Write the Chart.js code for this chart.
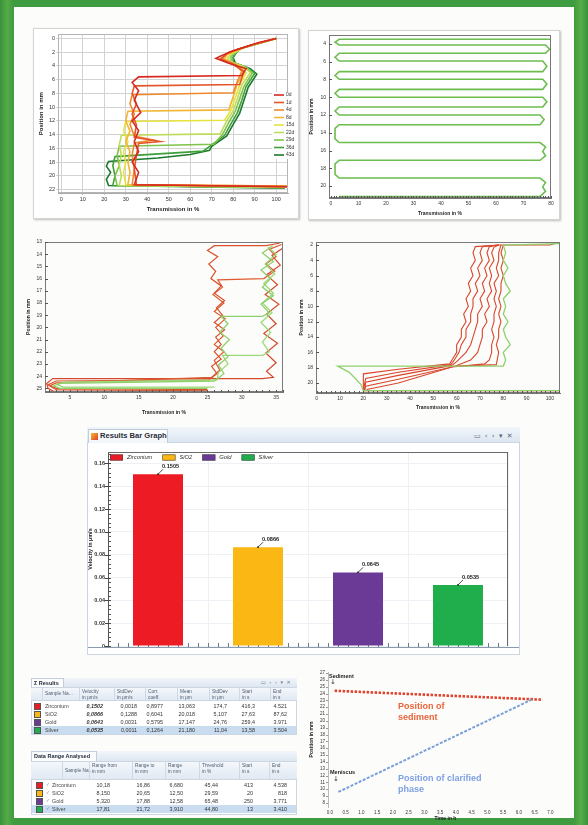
<!DOCTYPE html>
<html><head><meta charset="utf-8">
<script src="https://cdn.jsdelivr.net/npm/chart.js@4.4.1/dist/chart.umd.min.js"></script>
<style>
html,body{margin:0;padding:0;}
body{width:588px;height:825px;position:relative;overflow:hidden;
 background:linear-gradient(90deg,#37923a 0,#55ab48 7px,#3f9b3f 14px,#3f9b3f 574px,#57ad4a 581px,#37923a 588px);
 font-family:"Liberation Sans",Arial,sans-serif;}
.abs{position:absolute;}
canvas{position:absolute;}
</style></head><body>
<div class="abs" style="left:14px;top:7px;width:560px;height:811px;background:#fcfdfb;"></div>
<script>
// ---------------- DATA ----------------
// Bar chart
const categories = ['Zirconium','SiO2','Gold','Silver'];
const velocities = [0.1505, 0.0866, 0.0645, 0.0535];
const barColors  = ['#ed1c24','#fbb714','#6b3a96','#1fae4b'];
const barYTicks  = [0,0.02,0.04,0.06,0.08,0.10,0.12,0.14,0.16];
const barYLabels = ['0','0.02','0.04','0.06','0.08','0.10','0.12','0.14','0.16'];

// Top-left: transmission profiles [transmission %, position mm]
const TL_labels = ['0d','1d','4d','8d','15d','22d','29d','36d','43d'];
const TL_colors = ['#d6291f','#e4552b','#ef8a2c','#f3b533','#e6e33c','#bcdc5b','#80c34b','#3fa03a','#1b7a2c'];
const TL_0d  = [[100,0],[92,0.6],[80,1.8],[74,2.6],[72,2.9],[78,3.6],[86,4.4],[84,5.4],[36,5.6],[33,6.4],[36,7.6],[34,9],[37,10.8],[33,12],[36,13.4],[34,15],[36,16.5],[33,18],[36,19.5],[34,21.3],[105,21.6]];
const TL_1d  = [[100,0],[90,0.8],[78,2],[74,3],[80,3.8],[85,4.8],[83,6.7],[34,6.9],[33,8],[35,9.5],[33,11],[35,12.6],[34,14.4],[46,15],[36,15.3],[35,17],[34,19],[35,21.3],[105,21.6]];
const TL_4d  = [[100,0],[88,1],[77,2.2],[75,3],[81,3.8],[84,4.8],[82,6.2],[80,7.9],[33,8.2],[32,9.5],[34,11],[32,12.5],[34,14.2],[43,14.8],[34,15.2],[33,17],[34,19],[33,21.3],[105,21.5]];
const TL_8d  = [[100,0],[87,1.1],[77,2.3],[76,3.1],[82,3.9],[85,5],[82,6.5],[80,8.5],[78,10.4],[31,10.6],[30,12],[32,13.5],[30,15],[32,16.5],[31,18],[32,19.5],[31,21.3],[105,21.5]];
const TL_15d = [[100,0],[86,1.2],[78,2.3],[77,3.2],[83,4],[86,5],[83,6.8],[81,8.6],[79,10.4],[76,11.9],[30,12.1],[29,13.5],[31,15],[29,16.5],[30,18],[29,19.5],[30,21.3],[104,21.6]];
const TL_22d = [[100,0],[85,1.3],[78,2.5],[78,3.3],[85,4.1],[88,5],[84,6.8],[82,8.7],[80,10.5],[77,12],[74,13.9],[28,14.1],[27,15.5],[28,17],[27,18.5],[28,20],[27,21.4],[104,21.7]];
const TL_29d = [[100,0],[84,1.4],[79,2.6],[79,3.4],[86,4.2],[89,5],[85,7],[83,8.8],[81,10.6],[78,12.2],[75,14],[71,15.4],[27,15.7],[26,17],[27,18.5],[25,20],[26,21.4],[104,21.7]];
const TL_36d = [[100,0],[83,1.5],[80,2.7],[80,3.5],[87,4.3],[90,5.1],[86,7],[84,9],[82,10.8],[79,12.4],[76,14.1],[70,15.5],[66,16.4],[25,17.2],[24,18.5],[25,20],[24,21.4],[104,21.7]];
const TL_43d = [[100,0],[82,1.6],[80,2.8],[81,3.6],[88,4.4],[91,5.2],[87,7.1],[85,9],[83,10.9],[80,12.5],[77,14.2],[70,15.7],[69,16.3],[60,16.9],[45,17.4],[22,17.9],[21,18.6],[23,19.5],[21,20.5],[22,21.4],[104,21.8]];
const TL_series = [TL_0d,TL_1d,TL_4d,TL_8d,TL_15d,TL_22d,TL_29d,TL_36d,TL_43d];
const TL_xTicks = [0,10,20,30,40,50,60,70,80,90,100];
const TL_yTicks = [0,2,4,6,8,10,12,14,16,18,20,22];

// Top-right: scanning profile
const TR_path = [[81,3.47],[3,3.47],[1.5,3.8],[3,4.11],[78,4.11],[79.5,4.6],[78,5.05],[3,5.05],[1.5,5.5],[3,5.92],[77,5.92],[78.5,6.5],[77,7.12],[3,7.12],[1.5,7.55],[3,7.98],[77,7.98],[78.5,8.5],[77,9.11],[3,9.11],[1.5,9.55],[3,10.0],[77,10.0],[78.5,10.5],[77,11.1],[3,11.1],[1.5,11.55],[3,12.0],[76,12.0],[77.5,12.5],[76,13.1],[3,13.1],[1.5,13.5],[1.5,14.7],[3,15.1],[76,15.1],[78,15.6],[77,16.1],[78,16.6],[76,17.1],[3,17.1],[1.5,17.5],[1.5,18.7],[3,19.1],[76,19.1],[78,19.6],[77,20.1],[78,20.6],[76,21.2],[3,21.2]];
const TR_xTicks = [0,10,20,30,40,50,60,70,80];
const TR_yTicks = [4,6,8,10,12,14,16,18,20];

// Middle-left profiles
const ML_red1 = [[35.5,13.1],[33.5,13.3],[26,13.3],[25,13.7],[26.5,14.2],[25.2,14.8],[26.2,15.4],[25.5,16],[27,16.6],[26,17.2],[27.5,17.8],[26.3,18.4],[27.2,19],[26,19.6],[27.5,20.2],[26.2,20.8],[27,21.4],[26,22],[27,22.6],[25.6,23.2],[26.4,23.8],[25.2,24.3],[3,24.4],[1.8,24.7],[3,25],[25,25.1]];
const ML_red2 = [[35.8,13.2],[34,13.6],[35,14.2],[33.5,14.8],[34.8,15.4],[33.2,16],[26.5,16.1],[27.2,16.7],[25.8,17.3],[27.4,18],[26,18.7],[27.6,19.3],[26.2,20],[27.3,20.7],[26,21.4],[27.4,22],[26,22.7],[26.8,23.5],[25.6,24.1],[3,24.55],[2,24.8],[3,25.1],[25,25.2]];
const ML_green1 = [[34.5,13.3],[33,13.9],[34.6,14.6],[32.8,15.3],[34.2,16],[33,16.7],[34.6,17.4],[32.8,18.1],[34,18.8],[33,19.1],[27,19.1],[28,19.7],[26.8,20.4],[28.2,21],[27,21.7],[28,22.4],[26.6,23.1],[27.4,23.8],[26,24.4],[3.5,24.6],[2.6,24.8],[3.5,25],[25,25]];
const ML_green2 = [[33.8,13.4],[35,14],[33.4,14.8],[34.8,15.6],[33.2,16.4],[34.6,17.2],[33,18],[34.4,18.8],[32.8,19.6],[34.2,20.4],[33,21.2],[34,22],[33,22.3],[27.2,22.3],[28,23],[26.6,23.7],[26.4,24.3],[4,24.5],[3.2,24.7],[4,24.9],[26,24.9]];
const ML_red3 = [[36,13.5],[34.4,14.1],[35.6,14.9],[33.6,15.7],[35.2,16.5],[33.4,17.3],[35.4,18.1],[33.6,18.9],[35,19.7],[33.2,20.5],[35.2,21.3],[33.5,22.1],[35,22.9],[33.6,23.6],[34.6,24.1],[33,24.2],[2.5,24.2],[1.6,24.6],[1.8,25],[2.6,25.25],[25,25.25]];
const ML_xTicks = [5,10,15,20,25,30,35];
const ML_yTicks = [13,14,15,16,17,18,19,20,21,22,23,24,25];

// Middle-right profiles
const MR_r1 = [[104,1.6],[100,2],[78,2],[68,2.2],[67,3],[68,4],[66,5],[67,6],[65,7],[66,8],[64,9],[65,10],[63,11],[64,12],[62,13],[62,14],[60,15],[60,16],[58,17],[57,17.5],[35,18.2],[20,18.8],[20,21],[104,21]];
const MR_r2 = [[78,2],[71,2.2],[70,3],[71,4],[69,5],[70,6],[68,7],[69,8],[67,9],[67,10],[66,11],[66,12],[64,13],[64,14],[62,15],[61,16],[59,17],[57.5,17.6],[35,18.6],[21,19.4],[20,21]];
const MR_r3 = [[78,2],[74,2.2],[73,3],[74,4],[72,5],[73,6],[71,7],[72,8],[70,9],[71,10],[69,11],[69,12],[68,13],[67,14],[66,15],[64,16],[60,17.2],[58,17.7],[35,19],[21,19.9],[20.5,21]];
const MR_r4 = [[78,2],[76,2.3],[75,3],[76,4],[74,5],[75,6],[74,7],[75,8],[73,9],[74,10],[72,11],[73,12],[71,13],[71,14],[70,15],[69,16],[66,17],[60,17.7],[58,17.9],[35,19.5],[21,20.4],[20.5,21]];
const MR_r5 = [[79,2],[78,3],[78,4],[77,5],[78,6],[76,7],[77,8],[76,9],[77,10],[76,11],[76,12],[75,13],[76,14],[75,15],[75,16],[74,17],[72,17.5],[58,17.9],[35,20],[22,20.8],[21,21]];
const MR_r6 = [[80,2],[79,3],[80,4],[79,5],[80,6],[79,7],[79,8],[78,9],[79,10],[78,11],[79,12],[78,13],[78,14],[77,15],[78,16],[77,17.6],[60,17.8]];
const MR_green = [[104,1.8],[80,2],[81,3],[80,4],[82,5],[80,6],[81,7],[83,8],[80,9],[81,10],[80,11],[82,12],[80,13],[81,14],[83,15],[80,16],[81,17],[80,17.8],[9,17.8],[14,18.6],[19,20.2],[20,21],[104,21]];
const MR_xTicks = [0,10,20,30,40,50,60,70,80,90,100];
const MR_yTicks = [2,4,6,8,10,12,14,16,18,20];

// Bottom-right: sediment / clarified phase vs time
const BR_sedTime  = [0.15, 6.75];
const BR_sedPos   = [24.4, 23.1];
const BR_clarTime = [0.27, 6.4];
const BR_clarPos  = [9.6, 23.1];
const BR_xTicks  = [0,0.5,1,1.5,2,2.5,3,3.5,4,4.5,5,5.5,6,6.5,7];
const BR_xLabels = ['0.0','0.5','1.0','1.5','2.0','2.5','3.0','3.5','4.0','4.5','5.0','5.5','6.0','6.5','7.0'];
const BR_yTicks  = [8,9,10,11,12,13,14,15,16,17,18,19,20,21,22,23,24,25,26,27];

// Tables
const resultsHead = ['Sample Na...','Velocity\nin µm/s','StdDev\nin µm/s','Corr.\ncoeff.','Mean\nin µm','StdDev\nin µm','Start\nin s','End\nin s'];
const resultsRows = [
 ['Zirconium','0,1502','0,0018','0,8977','13,063','174,7','416,3','4.521'],
 ['SiO2','0,0866','0,1288','0,6041','20,018','5,107','27,63','87,62'],
 ['Gold','0,0643','0,0031','0,5795','17,147','24,76','259,4','3.971'],
 ['Silver','0,0535','0,0011','0,1264','21,180','11,04','13,58','3.504']];
const rangeHead = ['Sample Na...','Range from\nin mm','Range to\nin mm','Range\nin mm','Threshold\nin %','Start\nin s','End\nin s'];
const rangeRows = [
 ['Zirconium','10,18','16,86','6,680','45,44','413','4.538'],
 ['SiO2','8,150','20,65','12,50','29,59','20','818'],
 ['Gold','5,320','17,88','12,58','65,48','250','3.771'],
 ['Silver','17,81','21,72','3,910','44,80','13','3.410']];

// ---------------- HELPERS ----------------
Chart.defaults.font.family = '"Liberation Sans", Arial, sans-serif';
Chart.defaults.color = '#333';
Chart.defaults.animation = false;
Chart.defaults.responsive = false;
Chart.defaults.maintainAspectRatio = false;
Chart.defaults.devicePixelRatio = 1;
Chart.defaults.events = [];
Chart.defaults.plugins.legend.display = false;
Chart.defaults.plugins.tooltip.enabled = false;

function el(tag, style, text){
  const e = document.createElement(tag); e.className = 'abs';
  Object.assign(e.style, style);
  if (text != null) e.textContent = text;
  document.body.appendChild(e); return e;
}
function makeCanvas(left, top, w, h){
  const c = document.createElement('canvas');
  c.width = w; c.height = h;
  c.style.left = left + 'px'; c.style.top = top + 'px';
  c.style.width = w + 'px'; c.style.height = h + 'px';
  document.body.appendChild(c); return c;
}
function line(ctx, x1, y1, x2, y2, color, w){
  ctx.save(); ctx.strokeStyle = color; ctx.lineWidth = w || 1;
  ctx.beginPath(); ctx.moveTo(x1, y1); ctx.lineTo(x2, y2); ctx.stroke(); ctx.restore();
}
function frame(ch, color){
  const a = ch.chartArea, ctx = ch.ctx;
  ctx.save(); ctx.strokeStyle = color; ctx.lineWidth = 1;
  ctx.strokeRect(Math.round(a.left)+0.5, Math.round(a.top)+0.5, Math.round(a.right-a.left)-1, Math.round(a.bottom-a.top)-1);
  ctx.restore();
}
function ticksX(ch, vals, len, color){
  const a = ch.chartArea, s = ch.scales.x;
  vals.forEach(v => { const x = Math.round(s.getPixelForValue(v))+0.5; line(ch.ctx, x, a.bottom, x, a.bottom-len, color, 1); });
}
function ticksY(ch, vals, len, color){
  const a = ch.chartArea, s = ch.scales.y;
  vals.forEach(v => { const y = Math.round(s.getPixelForValue(v))+0.5; line(ch.ctx, a.left, y, a.left+len, y, color, 1); });
}
function stepVals(a, b, s){ const r=[]; for(let i=0; a+i*s<=b+1e-9; i++) r.push(a+i*s); return r; }

function profileChart(canvas, c){
  return new Chart(canvas, {
    type: 'scatter',
    data: { datasets: c.series.map(s => ({
      data: s.data.map(p => ({x:p[0], y:p[1]})), showLine: true,
      borderColor: s.color, borderWidth: s.width || 1.2, borderDash: s.dash || [],
      pointRadius: 0, tension: 0, fill: false })) },
    options: {
      layout: { padding: c.pad },
      scales: {
        x: { type:'linear', min:c.x.min, max:c.x.max,
             afterBuildTicks: s => { s.ticks = c.x.ticks.map(v => ({value:v})); },
             afterFit: s => { s.height = c.xH; },
             ticks: { autoSkip:false, maxRotation:0, padding:c.tickPad ?? 1, font:{size:c.fs}, color:'#333',
                      callback:(v,i) => c.x.labels ? c.x.labels[i] : String(v) },
             grid: { display: !!c.gridX, color: c.gridColor || '#d0d0d0', drawTicks:true, tickLength: 2 },
             border: { display: c.borderX !== false, color: c.axisColor || '#888' },
             title: { display:true, text:c.xTitle, font:{size:c.tfs, weight:'bold'}, color:'#222', padding:0 } },
        y: { type:'linear', min:c.y.min, max:c.y.max, reverse: !!c.y.reverse,
             afterBuildTicks: s => { s.ticks = c.y.ticks.map(v => ({value:v})); },
             afterFit: s => { s.width = c.yW; },
             ticks: { autoSkip:false, padding:c.tickPadY ?? 1, font:{size:c.fsY || c.fs}, color:'#333',
                      callback:(v,i) => c.y.labels ? c.y.labels[i] : String(v) },
             grid: { display: !!c.gridY, color: c.gridColor || '#d0d0d0', drawTicks:true, tickLength: 2 },
             border: { display:true, color: c.axisColor || '#888' },
             title: { display:true, text:c.yTitle, font:{size:c.tfs, weight:'bold'}, color:'#222', padding:0 } }
      }
    },
    plugins: [{ id:'deco', afterDraw: ch => { if (c.after) c.after(ch); } }]
  });
}

// ---------------- TOP-LEFT ----------------
el('div',{left:'33px',top:'28px',width:'264px',height:'189px',background:'#fff',border:'1px solid #d4d4d4',boxShadow:'1px 1px 2px rgba(0,0,0,.25)'});
profileChart(makeCanvas(33,30,264,187), {
  series: TL_series.map((d,i) => ({data:d, color:TL_colors[i], width:1.6})),
  x:{min:-1.5,max:105.5,ticks:TL_xTicks}, y:{min:-0.6,max:22.5,reverse:true,ticks:TL_yTicks},
  pad:{left:5,top:3,right:9,bottom:4}, yW:20, xH:20, fs:5.5, tfs:6,
  gridX:true, gridY:true, gridColor:'#d3d3d3', axisColor:'#aaa',
  xTitle:'Transmission in %', yTitle:'Position in mm',
  after: ch => {
    frame(ch,'#b5b5b5');
    const ctx = ch.ctx;
    ctx.save(); ctx.font = '5px "Liberation Sans"'; ctx.textBaseline = 'middle';
    TL_labels.forEach((l,i) => {
      const y = 65 + i*7.5;
      ctx.fillStyle = '#fff'; ctx.fillRect(239, y-3, 22, 7);
      line(ctx, 241, y, 251, y, TL_colors[i], 1.6);
      ctx.fillStyle = '#333'; ctx.fillText(l, 253, y);
    });
    ctx.restore();
  }
});

// ---------------- TOP-RIGHT ----------------
el('div',{left:'308px',top:'30px',width:'250px',height:'188px',background:'#fff',border:'1px solid #d4d4d4',boxShadow:'1px 1px 2px rgba(0,0,0,.25)'});
profileChart(makeCanvas(308,30,249,187), {
  series: [{data:TR_path, color:'#6cbd4e', width:1.6}],
  x:{min:-0.7,max:80,ticks:TR_xTicks}, y:{min:2.99,max:21.35,reverse:true,ticks:TR_yTicks},
  pad:{left:1,top:5,right:6,bottom:0}, yW:20, xH:19, fs:5, tfs:5, axisColor:'#777',
  xTitle:'Transmission in %', yTitle:'Position in mm',
  after: ch => { frame(ch,'#777'); ticksX(ch, stepVals(0,80,1), 2, '#555'); ticksY(ch, TR_yTicks, 3, '#555'); }
});

// ---------------- MIDDLE-LEFT ----------------
profileChart(makeCanvas(22,236,270,180), {
  series: [
    {data:ML_green1, color:'#8fd06c', width:1.3}, {data:ML_green2, color:'#9bd77a', width:1.3},
    {data:ML_red1, color:'#d9502d', width:1.2}, {data:ML_red2, color:'#de5a30', width:1.2},
    {data:ML_red3, color:'#d44a2a', width:1.2}],
  x:{min:1.36,max:36,ticks:ML_xTicks}, y:{min:13,max:25.3,reverse:true,ticks:ML_yTicks},
  pad:{left:4,top:6,right:9,bottom:0}, yW:19, xH:24, fs:5, tfs:5, axisColor:'#777',
  xTitle:'Transmission in %', yTitle:'Position in mm',
  after: ch => { frame(ch,'#7a7a7a'); ticksX(ch, stepVals(2,36,1), 2, '#555'); ticksY(ch, ML_yTicks, 3, '#555'); }
});

// ---------------- MIDDLE-RIGHT ----------------
profileChart(makeCanvas(292,236,276,180), {
  series: [
    {data:MR_green, color:'#8fd06c', width:1.3},
    {data:MR_r1, color:'#d9452b', width:1.1}, {data:MR_r2, color:'#d9452b', width:1.1},
    {data:MR_r3, color:'#d9452b', width:1.1}, {data:MR_r4, color:'#d9452b', width:1.1},
    {data:MR_r5, color:'#d9452b', width:1.1}, {data:MR_r6, color:'#d9452b', width:1.1}],
  x:{min:-0.3,max:104.3,ticks:MR_xTicks}, y:{min:1.6,max:21.3,reverse:true,ticks:MR_yTicks},
  pad:{left:7,top:6,right:8,bottom:5}, yW:17, xH:18, fs:5, tfs:5, axisColor:'#777',
  xTitle:'Transmission in %', yTitle:'Position in mm',
  after: ch => { frame(ch,'#7a7a7a'); ticksX(ch, stepVals(0,104,2), 2, '#555'); ticksY(ch, MR_yTicks, 3, '#555'); }
});

// ---------------- BAR CHART WINDOW ----------------
el('div',{left:'87px',top:'427px',width:'433px',height:'228px',background:'#fff',border:'1px solid #c9d5e2',boxSizing:'border-box'});
el('div',{left:'87px',top:'427px',width:'433px',height:'16px',background:'linear-gradient(#f2f6fb,#dce6f1)',borderBottom:'1px solid #c9d5e2',boxSizing:'border-box'});
el('div',{left:'88px',top:'429px',width:'80px',height:'14px',background:'linear-gradient(#ffffff,#f1f5fa)',border:'1px solid #c0ccda',borderBottom:'none',boxSizing:'border-box'});
el('div',{left:'91px',top:'433px',width:'7px',height:'7px',background:'linear-gradient(135deg,#f7b733,#e0412a)'});
el('div',{left:'100px',top:'429px',font:'bold 7.6px "Liberation Sans"',lineHeight:'14px',color:'#2a2f3a',whiteSpace:'nowrap'},'Results Bar Graph');
el('div',{left:'474px',top:'429px',font:'7px "DejaVu Sans"',lineHeight:'14px',color:'#5a6878',whiteSpace:'nowrap',letterSpacing:'1px'},'▭ ‹ › ▾ ✕');

const barCanvas = makeCanvas(87,443,433,212);
new Chart(barCanvas, {
  type: 'bar',
  data: {
    labels: categories,
    datasets: categories.map((c,i) => ({
      label: c,
      data: categories.map((_,j) => j === i ? velocities[i] : null),
      backgroundColor: barColors[i], borderWidth: 0,
      barPercentage: 0.5, categoryPercentage: 1
    }))
  },
  options: {
    layout: { padding: {left:0, top:9, right:12, bottom:0} },
    scales: {
      x: { stacked:true, afterFit: s => { s.height = 9; },
           ticks:{display:false}, grid:{display:true,color:'#edf1f6',drawTicks:false},
           border:{display:false} },
      y: { stacked:true, min:0, max:0.17,
           afterBuildTicks: s => { s.ticks = barYTicks.map(v => ({value:v})); },
           afterFit: s => { s.width = 21; },
           ticks:{ padding:3, font:{size:5.5, weight:'bold'}, color:'#333',
                   callback:(v,i) => barYLabels[i] },
           grid:{ display:true, color:'#edf1f6', drawTicks:false },
           border:{ display:true, color:'#555' },
           title:{ display:true, text:'Velocity in µm/s', font:{size:5.5, weight:'bold'}, color:'#222', padding:0 } }
    }
  },
  plugins: [{
    id:'barDeco',
    beforeDatasetsDraw(ch){
      const a = ch.chartArea, ctx = ch.ctx, sx = ch.scales.x, sy = ch.scales.y;
      // minor ticks along x axis (behind bars)
      for (let k = -5; k <= 35; k++) {
        const x = Math.round(sx.getPixelForValue(k/10))+0.5;
        if (x > a.left+1 && x < a.right-1) line(ctx, x, a.bottom-3, x, a.bottom+2, '#6d7a88', 1);
      }
      // y ticks
      stepVals(0, 0.168, 0.004).forEach(v => {
        const y = Math.round(sy.getPixelForValue(v))+0.5;
        line(ctx, a.left, y, a.left+3, y, '#555', 1);
      });
      barYTicks.forEach(v => {
        const y = Math.round(sy.getPixelForValue(v))+0.5;
        line(ctx, a.left-3, y, a.left+2, y, '#444', 1);
      });
    },
    afterDraw(ch){
      const a = ch.chartArea, ctx = ch.ctx;
      // frame top/right and long bottom axis
      line(ctx, a.left, a.top+0.5, a.right, a.top+0.5, '#6a6a6a', 1);
      line(ctx, a.right-0.5, a.top, a.right-0.5, a.bottom, '#6a6a6a', 1);
      line(ctx, 1, Math.round(a.bottom)+1.5, 432, Math.round(a.bottom)+1.5, '#8c9bab', 1);
      // legend inside plot
      ctx.save();
      ctx.font = 'italic 5.8px "Liberation Sans"'; ctx.textBaseline = 'middle';
      let x = a.left + 2; const y = a.top + 5.5;
      ch.data.datasets.forEach(ds => {
        ctx.fillStyle = ds.backgroundColor; ctx.fillRect(x, y-3, 13, 6);
        ctx.strokeStyle = '#444'; ctx.lineWidth = 0.6; ctx.strokeRect(x+0.3, y-2.7, 12.4, 5.4);
        ctx.fillStyle = '#333'; ctx.fillText(ds.label, x + 17, y);
        x += 17 + ctx.measureText(ds.label).width + 10;
      });
      // value labels with leader lines
      ctx.font = 'bold 5.6px "Liberation Sans"'; ctx.textBaseline = 'alphabetic';
      ch.data.datasets.forEach((ds,i) => {
        const bar = ch.getDatasetMeta(i).data[i];
        line(ctx, bar.x, bar.y, bar.x+5, bar.y-5, '#222', 0.8);
        ctx.fillStyle = '#222'; ctx.beginPath(); ctx.arc(bar.x, bar.y, 0.9, 0, Math.PI*2); ctx.fill();
        ctx.fillText(velocities[i].toFixed(4), bar.x+4, bar.y-6);
      });
      ctx.restore();
    }
  }]
});

// ---------------- BOTTOM-RIGHT ----------------
profileChart(makeCanvas(305,665,263,157), {
  series: [
    {data:BR_clarTime.map((t,i)=>[t,BR_clarPos[i]]), color:'#7b9fd8', width:2, dash:[3,1.5]},
    {data:BR_sedTime.map((t,i)=>[t,BR_sedPos[i]]), color:'#e2412c', width:2.6, dash:[2.5,1.5]}],
  x:{min:-0.06,max:7.4,ticks:BR_xTicks,labels:BR_xLabels}, y:{min:7.4,max:27.15,ticks:BR_yTicks},
  pad:{left:4,top:7,right:5,bottom:0}, yW:19, xH:15, fs:4.5, tfs:5, axisColor:'#bbb', borderX:false,
  xTitle:'Time in h', yTitle:'Position in mm',
  after: ch => { ticksY(ch, BR_yTicks, -2, '#999'); }
});
el('div',{left:'329px',top:'673px',font:'bold 5.5px "Liberation Sans"',color:'#222'},'Sediment');
el('div',{left:'330px',top:'678px',font:'7px "DejaVu Sans"',color:'#333'},'↓');
el('div',{left:'398px',top:'701px',font:'bold 9px "Liberation Sans"',lineHeight:'11px',color:'#e8643c',whiteSpace:'pre'},'Position of\nsediment');
el('div',{left:'330px',top:'769px',font:'bold 5.5px "Liberation Sans"',color:'#222'},'Meniscus');
el('div',{left:'333px',top:'775px',font:'7px "DejaVu Sans"',color:'#333'},'↓');
el('div',{left:'398px',top:'773px',font:'9px "Liberation Sans"',fontWeight:'bold',lineHeight:'11px',color:'#7d9fe3',whiteSpace:'pre'},'Position of clarified\nphase');

// ---------------- TABLES ----------------
function buildTable(t){
  el('div',{left:t.x+'px',top:t.y+'px',width:t.w+'px',height:t.h+'px',background:'#fff',border:'1px solid #cbd6e2',boxSizing:'border-box'});
  el('div',{left:t.x+'px',top:t.y+'px',width:t.w+'px',height:t.barH+'px',background:'linear-gradient(#f3f6fb,#dde6f0)',boxSizing:'border-box'});
  el('div',{left:t.x+'px',top:t.y+'px',width:t.tabW+'px',height:t.barH+'px',background:'#fbfcfe',border:'1px solid #c2cedb',borderBottom:'none',boxSizing:'border-box',
            font:'bold 5.5px "Liberation Sans"',lineHeight:(t.barH-1)+'px',paddingLeft:'2px',color:'#1e2633',whiteSpace:'nowrap'}, t.title);
  if (t.icons) el('div',{left:(t.x+t.w-36)+'px',top:t.y+'px',font:'5px "DejaVu Sans"',lineHeight:t.barH+'px',color:'#6a7888',letterSpacing:'1px',whiteSpace:'nowrap'},'▭ ‹ › ▾ ✕');
  const hy = t.y + t.barH;
  el('div',{left:t.x+'px',top:hy+'px',width:t.w+'px',height:t.headH+'px',background:'linear-gradient(#f4f7fb,#e1e9f3)',borderTop:'1px solid #cdd7e3',borderBottom:'1px solid #cdd7e3',boxSizing:'border-box'});
  t.headX.forEach((hx,i) => {
    el('div',{left:(hx-3)+'px',top:hy+'px',width:'1px',height:t.headH+'px',background:'#cfd9e5'});
    el('div',{left:hx+'px',top:(hy+(i===0?t.headH/2-3:2))+'px',font:'4.8px "Liberation Sans"',lineHeight:'5.6px',color:'#4d5d70',whiteSpace:'pre'}, t.head[i]);
  });
  t.rows.forEach((r,i) => {
    const ry = hy + t.headH + 1 + i*t.rowH;
    if (i === 3) el('div',{left:(t.x+1)+'px',top:ry+'px',width:(t.w-2)+'px',height:t.rowH+'px',background:'#c9dcf0'});
    el('div',{left:t.swatchX+'px',top:(ry+1.5)+'px',width:'5px',height:'5px',background:barColors[i],outline:'0.5px solid #555'});
    if (t.checkX) el('div',{left:t.checkX+'px',top:ry+'px',font:'4.8px "DejaVu Sans"',lineHeight:t.rowH+'px',color:'#7a8796'},'✓');
    el('div',{left:t.nameX+'px',top:ry+'px',font:'5.4px "Liberation Sans"',lineHeight:t.rowH+'px',color:'#444',whiteSpace:'nowrap'}, r[0]);
    t.valR.forEach((rx,j) => {
      el('div',{right:(588-rx)+'px',top:ry+'px',font:(t.boldCol===j?'bold italic ':'')+'5.4px "Liberation Sans"',lineHeight:t.rowH+'px',color:'#333',whiteSpace:'nowrap',textAlign:'right'}, r[j+1]);
    });
  });
}
buildTable({title:'Σ Results', x:31, y:678, w:266, h:57, barH:9, headH:14, rowH:8, tabW:33, icons:true,
  head:resultsHead, rows:resultsRows, swatchX:35, nameX:45,
  headX:[45,82,117,148,180,212,242,273], valR:[103,137,163,195,227,255,287], boldCol:0});
buildTable({title:'Data Range Analysed', x:31, y:751, w:266, h:64, barH:10, headH:19, rowH:8, tabW:66, icons:false,
  head:rangeHead, rows:rangeRows, swatchX:37, checkX:46, nameX:52,
  headX:[65,92,135,168,202,242,272], valR:[110,150,183,218,253,287]});
</script>
</body></html>
